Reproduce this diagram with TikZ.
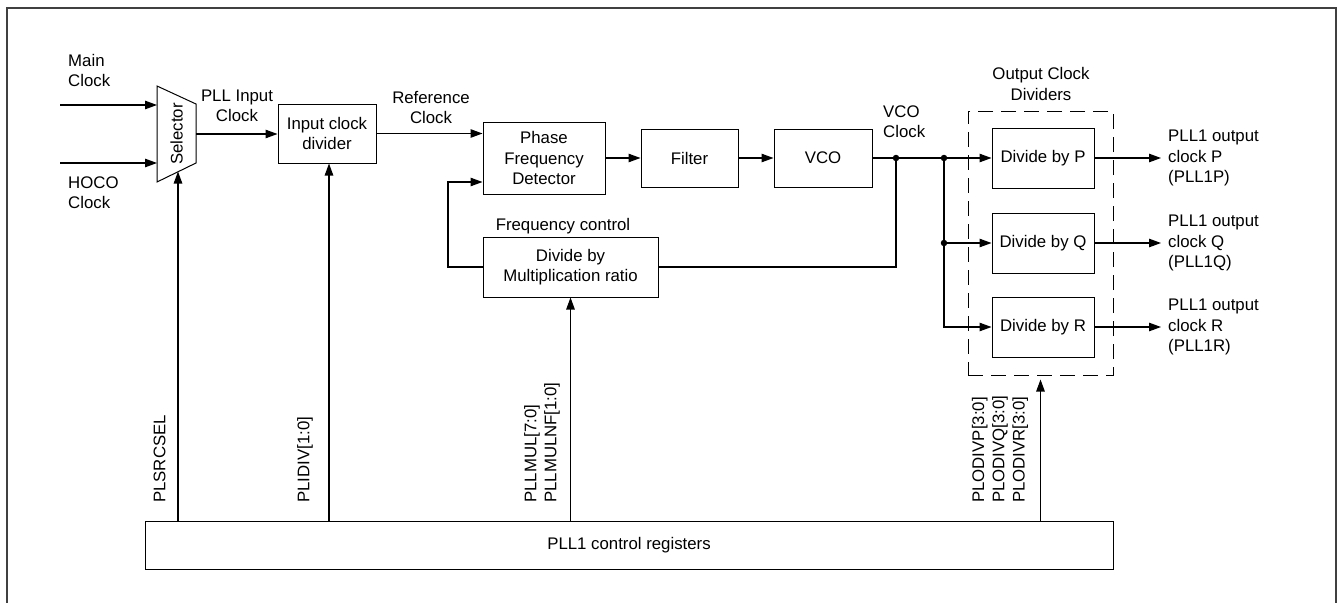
\documentclass[tikz,border=0pt]{standalone}
\usepackage{fontspec}
\setmainfont{Liberation Sans}
\usetikzlibrary{arrows.meta,calc}
\begin{document}
\begin{tikzpicture}[x=1pt,y=-1pt,
  font=\fontsize{16.8}{20.2}\selectfont,
  box/.style={draw, line width=1pt, align=center, inner sep=0pt},
  wire/.style={line width=1.1pt},
  arr/.style={line width=1.1pt, -{Triangle[length=12pt,width=8.5pt]}},
  dot/.style={circle, fill, inner sep=0pt, minimum size=6.5pt},
  lbl/.style={align=left, inner sep=0pt},
  clbl/.style={align=center, inner sep=0pt},
  vlbl/.style={rotate=90, anchor=west, align=left, inner sep=0pt},
  frame/.style={draw=black!75, line width=1.3pt}
]
\useasboundingbox (0,0) rectangle (1340,602);
\draw[frame] (7,610) -- (7,8) -- (1336,8) -- (1336,610);

% selector
\draw[line width=1pt] (157,86) -- (196,104) -- (196,163) -- (157,182) -- cycle;
\node[rotate=90, inner sep=0pt] (seltxt) at (176.5,134) {Selector};
\coordinate (selin1) at (157,105);
\coordinate (selin2) at (157,163);
\coordinate (selout) at (196,134);
\coordinate (selbot) at (178,171.5);
\coordinate (mainsrc) at (60,105);
\coordinate (hocosrc) at (60,163);

% boxes
\node[box, minimum width=98pt, minimum height=59pt] (icd) at (327,133.5) {Input clock\\divider};
\node[box, minimum width=122pt, minimum height=72pt] (pfd) at (544,158) {Phase\\Frequency\\Detector};
\node[box, minimum width=97pt, minimum height=58pt] (filt) at (689.5,158) {Filter};
\node[box, minimum width=98pt, minimum height=58pt] (vco) at (823,158) {VCO};
\node[box, minimum width=175pt, minimum height=60pt] (mul) at (570.5,267) {Divide by\\Multiplication ratio};
\node[box, minimum width=102pt, minimum height=60pt] (divp) at (1043,158) {Divide by P};
\node[box, minimum width=102pt, minimum height=60pt] (divq) at (1043,243) {Divide by Q};
\node[box, minimum width=102pt, minimum height=60pt] (divr) at (1043,327) {Divide by R};
\node[draw, line width=1pt, dash pattern=on 15pt off 8pt, minimum width=145pt, minimum height=264pt, inner sep=0pt] (ocd) at (1040.5,243) {};
\node[box, minimum width=968pt, minimum height=48pt] (reg) at (629,545) {PLL1 control registers};

% labels
\node[lbl, anchor=west] (lmain) at (68,70.5) {Main\\Clock};
\node[lbl, anchor=west] (lhoco) at (68,193) {HOCO\\Clock};
\node[clbl] (lpllin) at (237,105.5) {PLL Input\\Clock};
\node[clbl] (lref) at (431,107.5) {Reference\\Clock};
\node[lbl, anchor=west] (lvco) at (883,121.5) {VCO\\Clock};
\node[clbl] (locd) at (1041,84) {Output Clock\\Dividers};
\node[clbl] (lfc) at (563,226) {Frequency control};
\node[lbl, anchor=west] (lp) at (1168,158) {PLL1 output\\clock P\\(PLL1P)};
\node[lbl, anchor=west] (lq) at (1168,243) {PLL1 output\\clock Q\\(PLL1Q)};
\node[lbl, anchor=west] (lr) at (1168,327) {PLL1 output\\clock R\\(PLL1R)};
\node[vlbl] (lsrc) at (159.5,503) {PLSRCSEL};
\node[vlbl] (lidiv) at (305,503) {PLIDIV[1:0]};
\node[vlbl] (lmul) at (542,503) {PLLMUL[7:0]\\PLLMULNF[1:0]};
\node[vlbl] (lodiv) at (1000,503) {PLODIVP[3:0]\\PLODIVQ[3:0]\\PLODIVR[3:0]};

% junctions
\coordinate (j1) at (896,158);
\coordinate (j2) at (944,158);
\coordinate (j2q) at (944,243);
\coordinate (fbl) at (448,267);
\coordinate (op) at (1161,158);
\coordinate (oq) at (1161,243);
\coordinate (or) at (1161,327);

% connectors
\draw[arr] (mainsrc) -- (selin1);
\draw[arr] (hocosrc) -- (selin2);
\draw[arr] (selout) -- (selout -| icd.west);
\draw[arr] (icd.east |- 0,133.5) -- (icd.east |- 0,133.5 -| pfd.west);
\draw[arr] (pfd.east) -- (filt.west);
\draw[arr] (filt.east) -- (vco.west);
\draw[wire] (vco.east) -- (j1) -- (j2);
\draw[arr] (j2) -- (divp.west);
\draw[wire] (j1) |- (mul.east);
\draw[arr] (mul.west) -- (fbl) |- ($(pfd.west)+(0,24)$);
\draw[arr] (j2) |- (divr.west);
\draw[arr] (j2q) -- (divq.west);
\draw[arr] (divp.east) -- (op);
\draw[arr] (divq.east) -- (oq);
\draw[arr] (divr.east) -- (or);
\node[dot] at (j1) {};
\node[dot] at (j2) {};
\node[dot] at (j2q) {};

\draw[arr] (reg.north -| selbot) -- (selbot);
\draw[arr] (reg.north -| 329,0) -- (icd.south -| 329,0);
\draw[arr] (reg.north -| mul.south) -- (mul.south);
\draw[arr] (reg.north -| ocd.south) -- ($(ocd.south)+(0,4)$);
\end{tikzpicture}
\end{document}
